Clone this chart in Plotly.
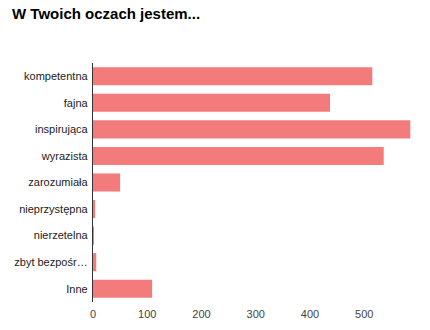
import plotly.graph_objects as go

categories = ["kompetentna", "fajna", "inspirująca", "wyrazista", "zarozumiała",
              "nieprzystępna", "nierzetelna", "zbyt bezpośr…", "Inne"]
values = [515, 437, 585, 536, 50, 4, 1, 6, 109]
x_ticks = [0, 100, 200, 300, 400, 500]

fig = go.Figure(go.Bar(
    x=values, y=categories, orientation="h",
    marker=dict(color="#f47b7b", line=dict(width=0)),
))

fig.update_layout(
    width=430, height=330,
    margin=dict(l=92.5, r=16.5, t=62.7, b=27.6),
    paper_bgcolor="white", plot_bgcolor="white",
    bargap=0.32,
    showlegend=False,
    font=dict(family="Liberation Sans, Arial, sans-serif", size=11, color="#222"),
    title=dict(text="<b>W Twoich oczach jestem...</b>", x=0.028, xanchor="left",
               y=0.975, yanchor="top",
               font=dict(size=15, color="#000", family="Liberation Sans, Arial, sans-serif")),
)
fig.update_xaxes(range=[0, 590], tickvals=x_ticks, showgrid=False, zeroline=False,
                 showline=False, ticks="", ticklabelstandoff=4, automargin=False,
                 tickfont=dict(color="#444"))
fig.update_yaxes(autorange="reversed", showline=True, linecolor="#333", linewidth=1.3,
                 showgrid=False, ticks="", ticklabelstandoff=2, automargin=False)

fig.write_html("out.html")
